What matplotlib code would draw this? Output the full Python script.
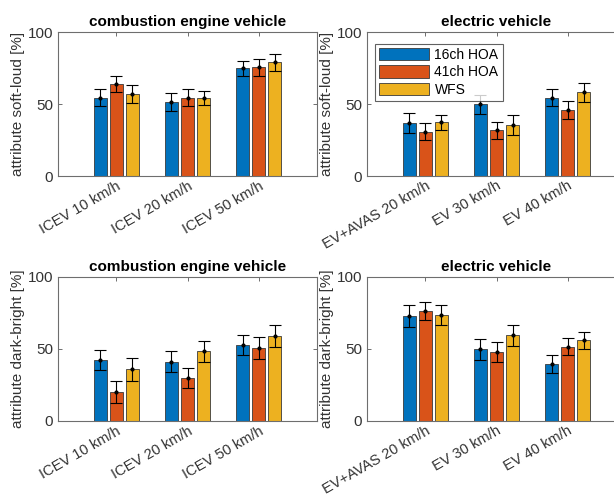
import numpy as np
import matplotlib
matplotlib.use("Agg")
import matplotlib.pyplot as plt

plt.rcParams["font.family"] = ["Liberation Sans", "DejaVu Sans"]

series = ["16ch HOA", "41ch HOA", "WFS"]
colors = ["#0072BD", "#D95319", "#EDB120"]

icev_labels = ["ICEV 10 km/h", "ICEV 20 km/h", "ICEV 50 km/h"]
ev_labels = ["EV+AVAS 20 km/h", "EV 30 km/h", "EV 40 km/h"]

# soft-loud, combustion engine vehicle (rows: conditions, cols: series)
loud_icev = [[54.5, 63.8, 57.0], [51.3, 54.3, 54.3], [74.7, 75.4, 79.0]]
loud_icev_err = [[6.0, 5.3, 6.4], [6.0, 6.0, 5.0], [5.0, 6.0, 6.0]]
# soft-loud, electric vehicle
loud_ev = [[36.7, 30.9, 37.4], [49.7, 31.6, 35.5], [54.5, 45.9, 58.0]]
loud_ev_err = [[7.0, 5.7, 5.3], [6.8, 5.7, 6.7], [5.8, 6.3, 6.5]]
# dark-bright, combustion engine vehicle
bright_icev = [[42.3, 19.9, 36.0], [41.3, 29.8, 48.3], [52.9, 50.6, 58.9]]
bright_icev_err = [[7.0, 7.6, 8.0], [7.0, 7.0, 7.5], [7.0, 7.4, 7.7]]
# dark-bright, electric vehicle
bright_ev = [[73.0, 76.2, 73.9], [49.7, 48.0, 59.4], [39.7, 51.7, 56.1]]
bright_ev_err = [[7.4, 6.1, 7.0], [7.0, 7.2, 7.4], [6.2, 6.2, 5.8]]

fig = plt.figure(figsize=(6.14, 4.96), dpi=100)

W, H = 614, 496
def px_axes(left, top, width, height):
    return fig.add_axes([left / W, 1 - (top + height) / H, width / W, height / H])

panels = [
    (px_axes(58, 32, 259, 144), loud_icev, loud_icev_err, icev_labels,
     "combustion engine vehicle", "attribute soft-loud [%]", False),
    (px_axes(367, 32, 259, 144), loud_ev, loud_ev_err, ev_labels,
     "electric vehicle", "attribute soft-loud [%]", True),
    (px_axes(58, 277, 259, 144), bright_icev, bright_icev_err, icev_labels,
     "combustion engine vehicle", "attribute dark-bright [%]", False),
    (px_axes(367, 277, 259, 144), bright_ev, bright_ev_err, ev_labels,
     "electric vehicle", "attribute dark-bright [%]", False),
]

axis_col = "#6e6e6e"
text_col = "#333333"
x = np.arange(1, 4)
offsets = [-0.225, 0.0, 0.225]
bw = 0.185

for ax, vals, errs, labels, title, ylabel, show_legend in panels:
    vals = np.array(vals)
    errs = np.array(errs)
    for j in range(3):
        ax.bar(x + offsets[j], vals[:, j], width=bw, color=colors[j],
               edgecolor="#3a3a3a", linewidth=0.6, label=series[j], zorder=2)
        ax.errorbar(x + offsets[j], vals[:, j], yerr=errs[:, j], fmt=".",
                    color="black", markersize=4, elinewidth=0.8, capsize=4.5,
                    capthick=0.8, zorder=3)
    ax.set_xlim(0.18, 3.82)
    ax.set_ylim(0, 100)
    ax.set_yticks([0, 50, 100])
    ax.set_xticks(x)
    ax.set_xticklabels(labels, rotation=30, ha="right", rotation_mode="anchor",
                       fontsize=10.5, color=text_col)
    ax.tick_params(axis="y", labelsize=11, labelcolor=text_col)
    ax.tick_params(axis="x", pad=2)
    ax.tick_params(direction="in", top=True, right=True, length=3,
                   color=axis_col, width=0.7)
    for s in ax.spines.values():
        s.set_color(axis_col)
        s.set_linewidth(0.8)
    ax.set_title(title, fontsize=11, fontweight="bold", pad=4)
    ax.set_ylabel(ylabel, fontsize=11, color=text_col, labelpad=2)
    if show_legend:
        leg = ax.legend(loc="upper left", bbox_to_anchor=(0.03, 0.92),
                        fontsize=10, frameon=True, fancybox=False,
                        handlelength=3.6, handleheight=1.0, handletextpad=0.4,
                        borderpad=0.3, labelspacing=0.25, borderaxespad=0)
        leg.get_frame().set_edgecolor("#3a3a3a")
        leg.get_frame().set_linewidth(0.8)

fig.savefig("out.png", dpi=100)
